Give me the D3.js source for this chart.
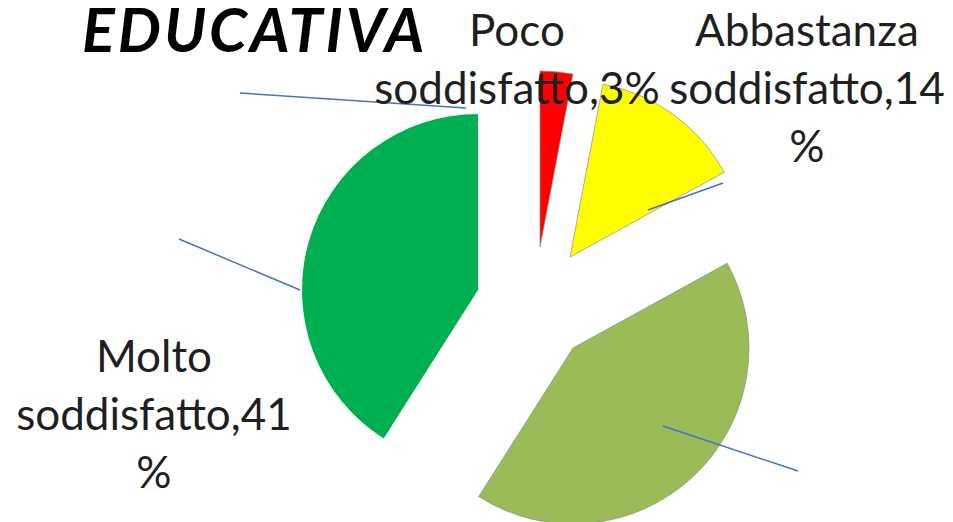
<!DOCTYPE html>
<html>
<head>
<meta charset="utf-8">
<script src="https://cdn.jsdelivr.net/npm/d3@7"></script>
<style>
  html, body { margin: 0; padding: 0; background: #fff; }
  svg { display: block; }
</style>
</head>
<body>
<div id="chart"></div>
<script>
// data
const categories = ["Poco soddisfatto", "Abbastanza soddisfatto", "Soddisfatto", "Molto soddisfatto"];
const values = [3, 14, 42, 41];
const colors = ["#ff0000", "#ffff00", "#9bbb59", "#00b050"];
const labelLines = [
  ["Poco", "soddisfatto,3%"],
  ["Abbastanza", "soddisfatto,14", "%"],
  null, // label cropped out of the picture
  ["Molto", "soddisfatto,41", "%"]
];

// layout
const width = 953;
const height = 522;
const center = { x: 534, y: 306 };
const radius = 176;
// where each exploded slice ended up (offset from the pie centre)
const sliceOffsets = [[6, -59], [36, -49], [39, 42], [-56, -16]];
const labelPos = [[517, 46], [807, 46], null, [154, 372]];
const lineHeight = 58;
const leaders = [
  [[240, 93], [466, 108]],
  [[648, 210], [723, 183]],
  [[663, 426], [798, 471]],
  [[179, 239], [300, 290]]
];

const svg = d3.select("#chart")
  .append("svg")
  .attr("width", width)
  .attr("height", height);

const pie = d3.pie().sort(null).value(d => d);
const arc = d3.arc().innerRadius(0).outerRadius(radius);

// slices
svg.append("g")
  .selectAll("path")
  .data(pie(values))
  .join("path")
  .attr("transform", (d, i) =>
    `translate(${center.x + sliceOffsets[i][0]},${center.y + sliceOffsets[i][1]})`)
  .attr("d", arc)
  .attr("fill", (d, i) => colors[i])
  .attr("stroke", "#8c8c8c")
  .attr("stroke-opacity", (d, i) => (i === 3 ? 0 : 0.7))
  .attr("stroke-width", 1);

// leader lines
svg.append("g")
  .selectAll("line")
  .data(leaders)
  .join("line")
  .attr("x1", d => d[0][0])
  .attr("y1", d => d[0][1])
  .attr("x2", d => d[1][0])
  .attr("y2", d => d[1][1])
  .attr("stroke", "#4472c4")
  .attr("stroke-width", 1.5);

// data labels
labelLines.forEach((lines, i) => {
  if (!lines) return;
  const t = svg.append("text")
    .attr("text-anchor", "middle")
    .attr("fill", "#1f1f1f")
    .style("font-family", "Lato, 'Open Sans', sans-serif")
    .style("font-size", "44px");
  lines.forEach((s, k) => {
    t.append("tspan")
      .attr("x", labelPos[i][0])
      .attr("y", labelPos[i][1] + k * lineHeight)
      .text(s);
  });
});

// title
svg.append("text")
  .attr("x", 82)
  .attr("y", 52)
  .attr("fill", "#000")
  .style("font-family", "Lato, 'Open Sans', sans-serif")
  .style("font-size", "61px")
  .style("font-weight", "bold")
  .style("font-style", "italic")
  .style("letter-spacing", "3px")
  .text("EDUCATIVA");
</script>
</body>
</html>
